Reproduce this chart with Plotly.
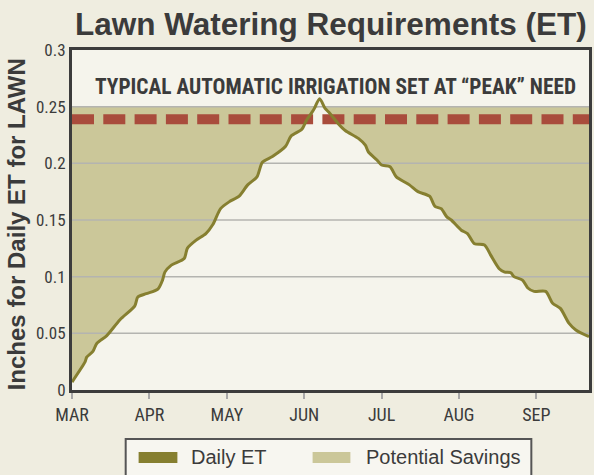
import plotly.graph_objects as go
import numpy as np

# ---- data ----
months = ["MAR", "APR", "MAY", "JUN", "JUL", "AUG", "SEP"]
month_pos = [0, 1, 2, 3, 4, 5, 6]
x_end = 6.68  # data runs to about Sep 21

# position in months after Mar 1, daily ET in inches
et_x = [0.00, 0.17, 0.19, 0.27, 0.32, 0.45, 0.62, 0.81, 0.85, 0.96, 1.11, 1.17, 1.20, 1.28,
        1.45, 1.49, 1.60, 1.73, 1.82, 1.92, 2.03, 2.16, 2.27, 2.39, 2.46, 2.59, 2.76, 2.83,
        2.97, 3.03, 3.12, 3.20, 3.27, 3.32, 3.44, 3.53, 3.70, 3.79, 3.83, 3.94, 4.00, 4.11,
        4.19, 4.36, 4.47, 4.62, 4.69, 4.77, 4.84, 4.90, 5.03, 5.11, 5.20, 5.33, 5.41, 5.52,
        5.59, 5.67, 5.71, 5.82, 5.89, 5.97, 6.12, 6.21, 6.31, 6.42, 6.51, 6.68]
et_y = [0.007, 0.025, 0.029, 0.034, 0.041, 0.048, 0.062, 0.074, 0.082, 0.085, 0.089, 0.097,
        0.104, 0.110, 0.116, 0.125, 0.132, 0.138, 0.146, 0.160, 0.166, 0.171, 0.181, 0.188,
        0.201, 0.206, 0.215, 0.224, 0.230, 0.238, 0.247, 0.257, 0.2485, 0.245, 0.235, 0.229,
        0.222, 0.216, 0.210, 0.203, 0.1985, 0.197, 0.188, 0.181, 0.175, 0.171, 0.162, 0.160,
        0.153, 0.150, 0.141, 0.138, 0.129, 0.128, 0.119, 0.107, 0.104, 0.1035, 0.100, 0.097,
        0.090, 0.087, 0.087, 0.0765, 0.072, 0.059, 0.053, 0.047]

savings_top = 0.25      # upper edge of the "Potential Savings" band
peak_setting = 0.239    # typical automatic irrigation setting

y_ticks = [0, 0.05, 0.1, 0.15, 0.2, 0.25, 0.3]
y_tick_text = ["0", "0.05", "0.1", "0.15", "0.2", "0.25", "0.3"]

# ---- styles ----
PAPER = "#efede0"
PLOT_BG = "#f5f4ec"
KHAKI = "#cbc799"
OLIVE = "#867f30"
RED = "#a94c3c"
TEXT = "#3b3b3b"
GRID = "#b4b4b0"
NARROW = "Liberation Sans Narrow, Arial Narrow, Roboto Condensed, sans-serif"
SANS = "Liberation Sans, Arial, Helvetica, sans-serif"

fig = go.Figure()

# savings band: from the curve up to 0.25
fig.add_trace(go.Scatter(x=[0, x_end], y=[savings_top, savings_top], mode="lines",
                         line=dict(width=0, color=KHAKI), hoverinfo="skip", showlegend=False))
fig.add_trace(go.Scatter(x=et_x, y=list(np.minimum(et_y, savings_top)), mode="lines",
                         line=dict(width=0, color=KHAKI, shape="spline", smoothing=0.7),
                         fill="tonexty", fillcolor=KHAKI, name="Potential Savings",
                         showlegend=False))

# horizontal gridlines above the fill
gx, gy = [], []
for v in y_ticks[1:-1]:
    gx += [0, x_end, None]
    gy += [v, v, None]
fig.add_trace(go.Scatter(x=gx, y=gy, mode="lines", line=dict(color=GRID, width=1.5),
                         hoverinfo="skip", showlegend=False))

# peak setting dashed line
fig.add_trace(go.Scatter(x=[0, x_end], y=[peak_setting, peak_setting], mode="lines",
                         line=dict(color=RED, width=10, dash="22px,9.3px"),
                         hoverinfo="skip", showlegend=False))

# daily ET curve
fig.add_trace(go.Scatter(x=et_x, y=et_y, mode="lines", name="Daily ET",
                         line=dict(color=OLIVE, width=3, shape="spline", smoothing=0.7),
                         showlegend=False))

W, H = 594, 475
L, R, T, B = 72, 2, 50, 85
pw, ph = W - L - R, H - T - B
def px(x): return (x - L) / pw
def py(y): return (H - B - y) / ph

annotations = [
    dict(text="<b>Lawn Watering Requirements (ET)</b>", x=px(333), y=py(24), xref="paper", yref="paper",
         xanchor="center", yanchor="middle", showarrow=False, font=dict(family=SANS, size=31.5, color=TEXT)),
    dict(text="<b>Inches for Daily ET for LAWN</b>", x=px(16), y=py(224), xref="paper", yref="paper",
         textangle=-90, xanchor="center", yanchor="middle", showarrow=False,
         font=dict(family=SANS, size=24, color=TEXT)),
    dict(text="<b>TYPICAL AUTOMATIC IRRIGATION SET AT \u201cPEAK\u201d NEED</b>", x=px(337), y=py(87),
         xref="paper", yref="paper", xanchor="center", yanchor="middle", showarrow=False,
         font=dict(family=NARROW, size=21.4, color=TEXT)),
    dict(text="Daily ET", x=px(190), y=py(457), xref="paper", yref="paper", xanchor="left",
         yanchor="middle", showarrow=False, font=dict(family=SANS, size=20, color=TEXT)),
    dict(text="Potential Savings", x=px(366), y=py(457), xref="paper", yref="paper", xanchor="left",
         yanchor="middle", showarrow=False, font=dict(family=SANS, size=20, color=TEXT)),
]

shapes = [
    dict(type="rect", xref="paper", yref="paper", x0=px(126), x1=px(534), y0=py(439), y1=py(500),
         line=dict(color="#555555", width=2), fillcolor="#f7f6f0", layer="above"),
    dict(type="rect", xref="paper", yref="paper", x0=px(139), x1=px(178), y0=py(452), y1=py(463),
         line=dict(width=0), fillcolor=OLIVE, layer="above"),
    dict(type="rect", xref="paper", yref="paper", x0=px(314), x1=px(352), y0=py(452), y1=py(463),
         line=dict(width=0), fillcolor=KHAKI, layer="above"),
]

fig.update_layout(
    width=W, height=H, margin=dict(l=L, r=R, t=T, b=B),
    paper_bgcolor=PAPER, plot_bgcolor=PLOT_BG,
    showlegend=False, annotations=annotations, shapes=shapes,
    xaxis=dict(range=[0, x_end], tickvals=month_pos, ticktext=months, showgrid=False, zeroline=False,
               ticks="outside", ticklen=6, tickwidth=2, tickcolor="#a8a8a8",
               tickfont=dict(family=NARROW, size=18, color=TEXT),
               showline=True, mirror=True, linecolor="#3c3c3c", linewidth=3),
    yaxis=dict(range=[0, 0.3], tickvals=y_ticks, ticktext=y_tick_text, showgrid=False, zeroline=False,
               ticks="", tickfont=dict(family=NARROW, size=17, color=TEXT),
               showline=True, mirror=True, linecolor="#3c3c3c", linewidth=3),
)

fig.write_html("out.html", config={"displayModeBar": False},
               post_script="document.body.style.margin='0';document.body.style.background='%s';" % PAPER)
